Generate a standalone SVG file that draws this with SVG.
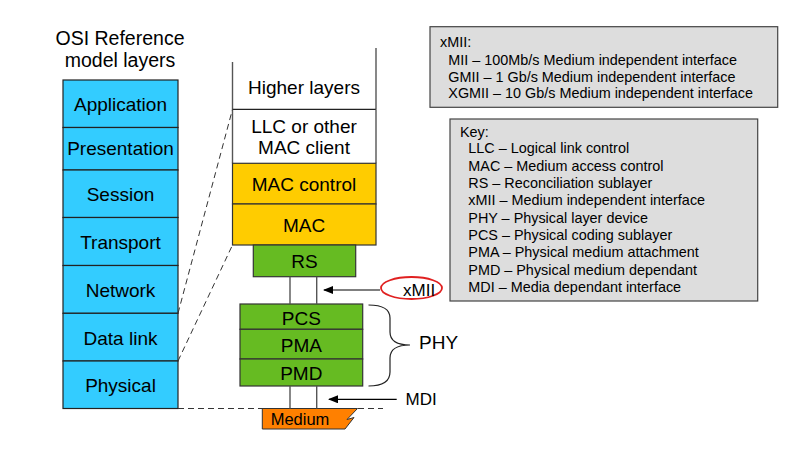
<svg xmlns="http://www.w3.org/2000/svg" width="808" height="449" viewBox="0 0 808 449">
<style>
text{font-family:"Liberation Sans",Arial,sans-serif;fill:#000}
.t18{font-size:19px;text-anchor:middle}
.t14{font-size:14.4px}
.osi{fill:#33CCFF;stroke:#222;stroke-width:1.2}
.mac{fill:#FFCC00;stroke:#333;stroke-width:1.2}
.phy{fill:#66BB22;stroke:#333;stroke-width:1.2}
.wline{stroke:#555;stroke-width:1.4;fill:none}
.dash{stroke:#333;stroke-width:1;stroke-dasharray:6,4;fill:none}
.box{fill:#DDDDDD;stroke:#444;stroke-width:1.2}
</style>
<defs>
<marker id="ah" markerWidth="10" markerHeight="8" refX="9" refY="4" orient="auto" markerUnits="userSpaceOnUse">
<path d="M0,0 L10,4 L0,8 Z" fill="#000"/>
</marker>
</defs>
<rect width="808" height="449" fill="#fff"/>

<g id="osi-title">
<text class="t18" x="120" y="45" style="font-size:19.5px">OSI Reference</text>
<text class="t18" x="120" y="67" style="font-size:19.5px">model layers</text>
</g>
<g id="osi-application"><rect class="osi" x="63" y="80" width="115" height="47.5"/><text class="t18" x="120.5" y="110.5">Application</text></g>
<g id="osi-presentation"><rect class="osi" x="63" y="127.5" width="115" height="42.5"/><text class="t18" x="120.5" y="154.5">Presentation</text></g>
<g id="osi-session"><rect class="osi" x="63" y="170" width="115" height="47.5"/><text class="t18" x="120.5" y="200.5">Session</text></g>
<g id="osi-transport"><rect class="osi" x="63" y="217.5" width="115" height="48"/><text class="t18" x="120.5" y="248.5">Transport</text></g>
<g id="osi-network"><rect class="osi" x="63" y="265.5" width="115" height="47.8"/><text class="t18" x="120.5" y="296.5">Network</text></g>
<g id="osi-datalink"><rect class="osi" x="63" y="313.3" width="115" height="47.7"/><text class="t18" x="120.5" y="344.5">Data link</text></g>
<g id="osi-physical"><rect class="osi" x="63" y="361" width="115" height="47.5"/><text class="t18" x="120.5" y="391.5">Physical</text></g>

<g id="higher-layers">
<line class="wline" x1="232.5" y1="62" x2="232.5" y2="109.3"/>
<line class="wline" x1="376" y1="48" x2="376" y2="109.3"/>
<line x1="232.5" y1="109.3" x2="376" y2="109.3" stroke="#222" stroke-width="1.2"/>
<text class="t18" x="304" y="94">Higher layers</text>
</g>
<g id="llc">
<line class="wline" x1="232.5" y1="109.3" x2="232.5" y2="163.3"/>
<line class="wline" x1="376" y1="109.3" x2="376" y2="163.3"/>
<text class="t18" x="304" y="133">LLC or other</text>
<text class="t18" x="304" y="154">MAC client</text>
</g>
<g id="mac-control"><rect class="mac" x="232.5" y="163.3" width="143.5" height="40.7"/><text class="t18" x="304" y="191">MAC control</text></g>
<g id="mac"><rect class="mac" x="232.5" y="204" width="143.5" height="41"/><text class="t18" x="304" y="232">MAC</text></g>
<g id="rs"><rect class="phy" x="253.3" y="245" width="102.4" height="31.7"/><text class="t18" x="304.5" y="267.5">RS</text></g>
<g id="pcs"><rect class="phy" x="240" y="304" width="122.7" height="25.3"/><text class="t18" x="301.3" y="324.5">PCS</text></g>
<g id="pma"><rect class="phy" x="240" y="329.3" width="122.7" height="29.7"/><text class="t18" x="301.3" y="352">PMA</text></g>
<g id="pmd"><rect class="phy" x="240" y="359" width="122.7" height="27"/><text class="t18" x="301.3" y="379.5">PMD</text></g>
<g id="medium">
<path d="M262.3,408.5 H357.5 L347,419.5 L354,417.5 L345,429 H262.3 Z" fill="#FF8000" stroke="#333" stroke-width="1"/>
<text class="t18" x="300" y="425" style="font-size:16.5px">Medium</text>
</g>
<g id="xmii-label">
<ellipse cx="411.5" cy="288" rx="30.5" ry="11" fill="none" stroke="#E02020" stroke-width="1.8"/>
<text x="403" y="296" style="font-size:17px">xMII</text>
</g>
<g id="phy-label"><text x="419" y="348.5" style="font-size:19px">PHY</text></g>
<g id="mdi-label"><text x="405.5" y="404.5" style="font-size:17px">MDI</text></g>

<g id="xmii-legend">
<rect class="box" x="430" y="26.7" width="347.7" height="80.6"/>
<text class="t14" x="440" y="47">xMII:</text>
<text class="t14" x="448.3" y="65">MII – 100Mb/s Medium independent interface</text>
<text class="t14" x="448.3" y="81.7">GMII – 1 Gb/s Medium independent interface</text>
<text class="t14" x="448.3" y="98.3">XGMII – 10 Gb/s Medium independent interface</text>
</g>
<g id="key-legend">
<rect class="box" x="450" y="119" width="307.7" height="182"/>
<text class="t14" x="460" y="137">Key:</text>
<text class="t14" x="468.3" y="153.3">LLC – Logical link control</text>
<text class="t14" x="468.3" y="170.6">MAC – Medium access control</text>
<text class="t14" x="468.3" y="188">RS – Reconciliation sublayer</text>
<text class="t14" x="468.3" y="205.3">xMII – Medium independent interface</text>
<text class="t14" x="468.3" y="222.6">PHY – Physical layer device</text>
<text class="t14" x="468.3" y="240">PCS – Physical coding sublayer</text>
<text class="t14" x="468.3" y="257.3">PMA – Physical medium attachment</text>
<text class="t14" x="468.3" y="274.6">PMD – Physical medium dependant</text>
<text class="t14" x="468.3" y="292">MDI – Media dependant interface</text>
</g>

<g id="connectors">
<line class="dash" x1="178" y1="313.3" x2="232.5" y2="109.3"/>
<line class="dash" x1="178" y1="361" x2="232.5" y2="245"/>
<line class="dash" x1="178" y1="408.5" x2="383" y2="408.5"/>
<line class="wline" x1="290" y1="276.7" x2="290" y2="304"/>
<line class="wline" x1="316.7" y1="276.7" x2="316.7" y2="304"/>
<line class="wline" x1="290" y1="386" x2="290" y2="408.5"/>
<line class="wline" x1="316.7" y1="386" x2="316.7" y2="408.5"/>
<line x1="380" y1="290" x2="324" y2="290" stroke="#000" stroke-width="1.2" marker-end="url(#ah)"/>
<line x1="396.7" y1="399.3" x2="329" y2="399.3" stroke="#000" stroke-width="1.2" marker-end="url(#ah)"/>
<path d="M368.5,305 Q390,305 390,318 V332 Q390,345 410,345 Q390,345 390,358 V372 Q390,386 368.5,386" fill="none" stroke="#222" stroke-width="1.2"/>
</g>
</svg>
